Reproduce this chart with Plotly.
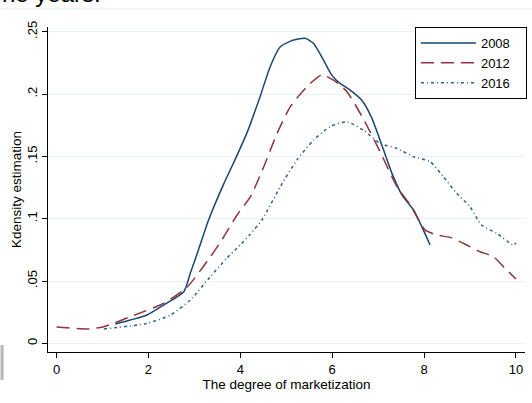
import plotly.graph_objects as go

# Data
x2008 = [1.28, 1.61, 1.97, 2.33, 2.77, 2.91, 3.09, 3.31, 3.64, 3.85, 4.14, 4.43, 4.65, 4.87, 5.16, 5.41, 5.59, 5.81, 5.99, 6.17, 6.39, 6.64, 6.86, 7.12, 7.30, 7.52, 7.77, 7.95, 8.13]
y2008 = [0.0155, 0.0187, 0.0227, 0.0307, 0.0414, 0.056, 0.075, 0.099, 0.128, 0.1445, 0.1685, 0.198, 0.222, 0.238, 0.2434, 0.2448, 0.2408, 0.2274, 0.2153, 0.2087, 0.2033, 0.1953, 0.181, 0.155, 0.1364, 0.119, 0.107, 0.0936, 0.0789]

x2012 = [0.0, 0.70, 1.03, 1.61, 2.33, 2.84, 3.35, 3.60, 3.93, 4.22, 4.51, 4.80, 5.09, 5.45, 5.77, 6.03, 6.32, 6.68, 7.04, 7.41, 7.70, 8.02, 8.28, 8.57, 8.93, 9.22, 9.51, 9.76, 10.0]
y2012 = [0.013, 0.0115, 0.0133, 0.0214, 0.032, 0.045, 0.0695, 0.083, 0.103, 0.1177, 0.1417, 0.1685, 0.190, 0.206, 0.2153, 0.2113, 0.202, 0.180, 0.154, 0.1257, 0.111, 0.091, 0.0869, 0.085, 0.0789, 0.0735, 0.0695, 0.0602, 0.0516]

x2016 = [1.03, 1.97, 2.48, 2.91, 3.35, 3.70, 4.00, 4.20, 4.47, 4.87, 5.23, 5.59, 5.96, 6.32, 6.68, 7.04, 7.40, 7.77, 8.13, 8.42, 8.71, 9.00, 9.25, 9.58, 9.94, 10.0]
y2016 = [0.0115, 0.016, 0.0227, 0.0347, 0.0535, 0.068, 0.079, 0.087, 0.099, 0.1257, 0.147, 0.163, 0.174, 0.1778, 0.171, 0.1605, 0.1565, 0.1498, 0.1458, 0.1337, 0.1204, 0.1096, 0.0949, 0.0883, 0.0789, 0.0805]

series_names = ["2008", "2012", "2016"]
ytick_vals = [0, 0.05, 0.1, 0.15, 0.2, 0.25]
ytick_text = ["0", ".05", ".1", ".15", ".2", ".25"]
xtick_vals = [0, 2, 4, 6, 8, 10]

pad = "\u00a0\u00a0\u00a0"

fig = go.Figure()
fig.add_trace(go.Scatter(x=x2008, y=y2008, mode="lines", name=series_names[0] + pad,
                         line=dict(color="#1a476f", width=1.5, shape="spline", smoothing=0.6)))
fig.add_trace(go.Scatter(x=x2012, y=y2012, mode="lines", name=series_names[1] + pad,
                         line=dict(color="#90353b", width=1.5, dash="13px,7px", shape="spline", smoothing=0.6)))
fig.add_trace(go.Scatter(x=x2016, y=y2016, mode="lines", name=series_names[2] + pad,
                         line=dict(color="#2f5d8a", width=1.5, dash="3px,3px,1px,3px", shape="spline", smoothing=0.6)))

font_family = "Liberation Sans, Arial, sans-serif"

fig.update_layout(
    width=532, height=403,
    margin=dict(l=47.5, r=7, t=27, b=51, autoexpand=False),
    paper_bgcolor="white", plot_bgcolor="white",
    font=dict(family=font_family, size=12, color="black"),
    showlegend=True,
    legend=dict(x=1.004, xanchor="right", y=1, yanchor="top",
                bgcolor="white", bordercolor="black", borderwidth=1,
                font=dict(size=13), tracegroupgap=0, itemwidth=55),
    xaxis=dict(range=[-0.185, 10.196], tickvals=xtick_vals, ticks="outside", ticklen=5,
               tickcolor="black", showline=True, linecolor="black", linewidth=1,
               showgrid=False, zeroline=False, tickfont=dict(size=13), automargin=False,
               title=dict(text="The degree of marketization", font=dict(size=13.5), standoff=0)),
    yaxis=dict(range=[-0.007, 0.2539], tickvals=ytick_vals, ticktext=ytick_text,
               ticks="outside", ticklen=5, tickcolor="black", tickangle=-90,
               showline=True, linecolor="black", linewidth=1, automargin=False,
               showgrid=True, gridcolor="#eaf2f3", gridwidth=1, zeroline=False,
               tickfont=dict(size=13),
               title=dict(text="Kdensity estimation", font=dict(size=13.5), standoff=0)),
)

# page fragments seen around the chart
fig.add_annotation(text="he years.", xref="paper", yref="paper", x=-0.1, y=1.055,
                   xanchor="left", yanchor="bottom", showarrow=False,
                   font=dict(size=24, color="black", family=font_family))
fig.add_shape(type="line", xref="paper", yref="paper", x0=-0.1, x1=1.02, y0=1.0554, y1=1.0554,
              line=dict(color="#e3eaec", width=1))
fig.add_shape(type="rect", xref="paper", yref="paper", x0=-0.0995, x1=-0.0932, y0=-0.0862, y1=0.0215,
              line=dict(width=0), fillcolor="#b5b5b5")

fig.write_html("out.html", config={"displayModeBar": False},
               post_script="document.body.style.margin='0px';")
